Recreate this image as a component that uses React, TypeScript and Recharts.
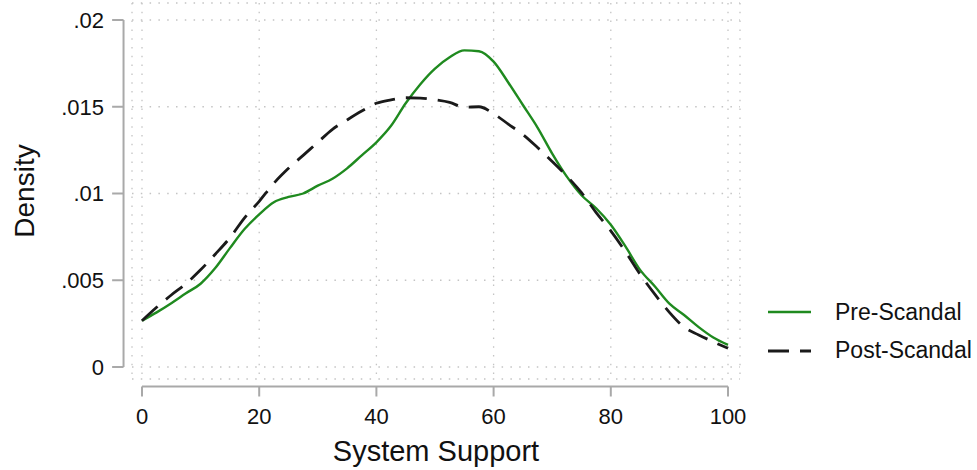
import React from 'react';
import { LineChart, Line, XAxis, YAxis, CartesianGrid, ReferenceLine, Legend, Label } from 'recharts';

const support = [
  0, 2.5, 5, 7.5, 10, 12.5, 15, 17.5, 20, 22.5, 25, 27.5, 30, 32.5, 35, 37.5, 40, 42.5, 45, 47.5, 50,
  52.5, 55, 57.5, 60, 62.5, 65, 67.5, 70, 72.5, 75, 77.5, 80, 82.5, 85, 87.5, 90, 92.5, 95, 97.5, 100,
];

const preScandal = [
  0.00267, 0.00315, 0.00368, 0.00425, 0.0048, 0.0057, 0.00685, 0.00795, 0.0088, 0.0095, 0.0098,
  0.01, 0.01045, 0.01085, 0.01145, 0.0122, 0.01295, 0.0139, 0.0152, 0.0163, 0.0172, 0.01785,
  0.01825, 0.0182, 0.0176, 0.0164, 0.0151, 0.0138, 0.0123, 0.01097, 0.0099, 0.00915, 0.0082,
  0.00695, 0.0056, 0.00465, 0.00365, 0.003, 0.0023, 0.0017, 0.00127,
];

const postScandal = [
  0.00267, 0.00344, 0.00415, 0.0048, 0.0056, 0.0065, 0.00745, 0.0086, 0.00955, 0.01059, 0.01145,
  0.0122, 0.01295, 0.0137, 0.01424, 0.01475, 0.0152, 0.0154, 0.01552, 0.0155, 0.0154, 0.01525,
  0.01497, 0.015, 0.0146, 0.014, 0.0134, 0.01265, 0.01185, 0.011, 0.01005, 0.0089, 0.00785,
  0.00665, 0.00535, 0.0042, 0.00315, 0.0023, 0.00185, 0.00145, 0.00108,
];

const seriesOrder = ['Pre-Scandal', 'Post-Scandal'];

const xTicks = [0, 20, 40, 60, 80, 100];
const yTicks = [0, 0.005, 0.01, 0.015, 0.02];
const yTickLabels = ['0', '.005', '.01', '.015', '.02'];

const data = support.map((s, i) => ({ support: s, pre: preScandal[i], post: postScandal[i] }));

const FONT = '"Liberation Sans", Arial, Helvetica, sans-serif';
const AXIS_COLOR = '#a9a9a9';
const TEXT_COLOR = '#111';

// Stata-style detached axes, in data units
const Y_AXIS_AT = -3.15;
const Y_TICK_END = -5.1;
const X_AXIS_AT = -0.00113;
const X_TICK_END = -0.0017;

const renderLegend = (props: any) => {
  const items = [...(props.payload || [])].sort(
    (a: any, b: any) => seriesOrder.indexOf(a.value) - seriesOrder.indexOf(b.value)
  );
  return (
    <div style={{ fontFamily: FONT }}>
      {items.map((entry: any) => (
        <div key={entry.value} style={{ display: 'flex', alignItems: 'center', height: 38.5 }}>
          <svg width={43} height={10} style={{ display: 'block' }}>
            <line
              x1={0}
              x2={43}
              y1={5}
              y2={5}
              stroke={entry.color}
              strokeWidth={entry.payload?.strokeWidth ?? 2.5}
              strokeDasharray={entry.payload?.strokeDasharray}
            />
          </svg>
          <span style={{ marginLeft: 24, fontSize: 23, color: TEXT_COLOR, whiteSpace: 'nowrap' }}>
            {entry.value}
          </span>
        </div>
      ))}
    </div>
  );
};

export default function App() {
  return (
    <div style={{ position: 'absolute', left: 0, top: 0, background: '#fff', fontFamily: FONT }}>
      <LineChart width={977} height={470} data={data} margin={{ top: 3, right: 237, bottom: 0, left: 0 }}>
        <CartesianGrid stroke="#c4c4c4" strokeWidth={1.3} strokeDasharray="1.5 7.3" />
        <XAxis
          type="number"
          dataKey="support"
          domain={[0, 100]}
          ticks={xTicks}
          padding={{ left: 10, right: 12 }}
          height={91}
          axisLine={false}
          tickLine={false}
          tickSize={0}
          tickMargin={29}
          tick={{ fontSize: 22, fill: TEXT_COLOR, fontFamily: FONT }}
        >
          <Label value="System Support" position="center" dy={26.5} fill={TEXT_COLOR} style={{ fontSize: 29, fontFamily: FONT }} />
        </XAxis>
        <YAxis
          type="number"
          domain={[0, 0.02]}
          ticks={yTicks}
          tickFormatter={(v: number) => yTickLabels[yTicks.indexOf(v)] ?? String(v)}
          padding={{ top: 17, bottom: 12 }}
          width={132}
          axisLine={false}
          tickLine={false}
          tickSize={0}
          tickMargin={28}
          tick={{ fontSize: 22, fill: TEXT_COLOR, fontFamily: FONT }}
        >
          <Label value="Density" angle={-90} position="center" dx={-42} fill={TEXT_COLOR} style={{ fontSize: 28, fontFamily: FONT }} />
        </YAxis>

        <ReferenceLine
          segment={[{ x: Y_AXIS_AT, y: 0 }, { x: Y_AXIS_AT, y: 0.02 }]}
          stroke={AXIS_COLOR}
          strokeWidth={2}
          ifOverflow="visible"
        />
        {yTicks.map((t) => (
          <ReferenceLine
            key={'yt' + t}
            segment={[{ x: Y_TICK_END, y: t }, { x: Y_AXIS_AT, y: t }]}
            stroke={AXIS_COLOR}
            strokeWidth={2}
            ifOverflow="visible"
          />
        ))}
        <ReferenceLine
          segment={[{ x: 0, y: X_AXIS_AT }, { x: 100, y: X_AXIS_AT }]}
          stroke={AXIS_COLOR}
          strokeWidth={2}
          ifOverflow="visible"
        />
        {xTicks.map((t) => (
          <ReferenceLine
            key={'xt' + t}
            segment={[{ x: t, y: X_AXIS_AT }, { x: t, y: X_TICK_END }]}
            stroke={AXIS_COLOR}
            strokeWidth={2}
            ifOverflow="visible"
          />
        ))}

        <Line
          type="monotone"
          dataKey="pre"
          name="Pre-Scandal"
          stroke="#1f8a1f"
          strokeWidth={2.4}
          dot={false}
          isAnimationActive={false}
        />
        <Line
          type="monotone"
          dataKey="post"
          name="Post-Scandal"
          stroke="#1a1a1a"
          strokeWidth={2.8}
          strokeDasharray="21 11"
          dot={false}
          isAnimationActive={false}
        />
        <Legend
          layout="horizontal"
          align="center"
          verticalAlign="middle"
          content={renderLegend}
          wrapperStyle={{ left: 768, top: 293, width: 209, height: 77 }}
        />
      </LineChart>
    </div>
  );
}
